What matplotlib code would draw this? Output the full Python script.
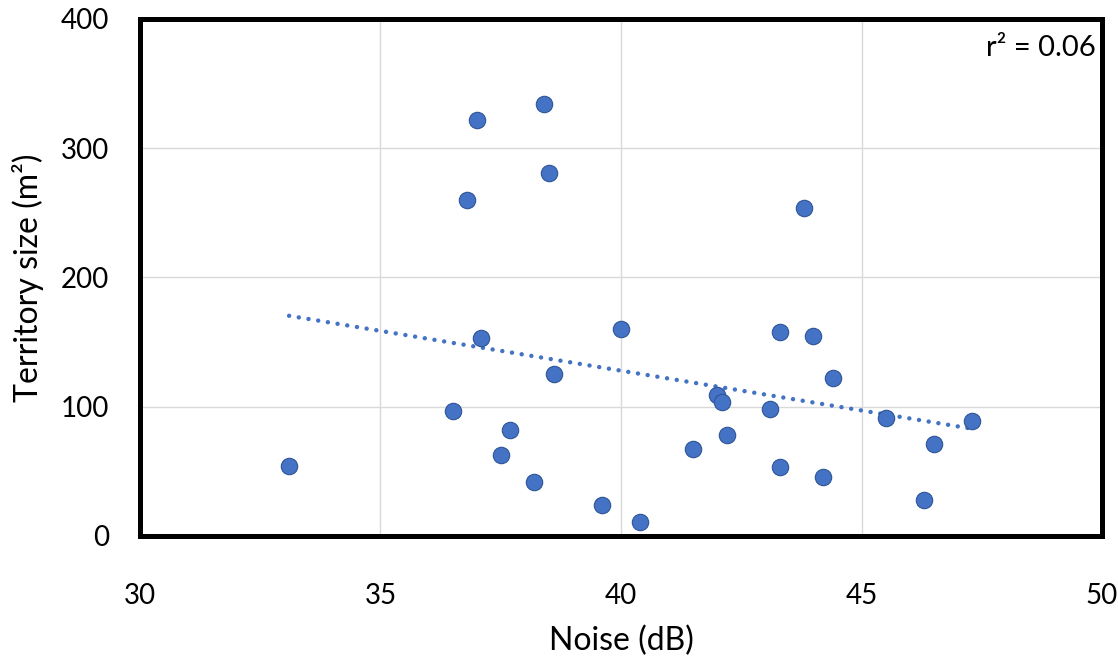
import numpy as np
import matplotlib.pyplot as plt

plt.rcParams['font.family'] = ['Lato', 'DejaVu Sans']

# Noise level (dB) and territory size (m^2).
noise = [33.1, 36.5, 36.8, 37.0, 37.1, 37.5, 37.7, 38.2, 38.4, 38.5,
         38.6, 39.6, 40.0, 40.4, 41.5, 42.0, 42.1, 42.2, 43.1, 43.3,
         43.3, 43.8, 44.0, 44.2, 44.4, 45.5, 46.3, 46.5, 47.3]
territory = [54, 97, 260, 322, 153, 63, 82, 42, 334, 281,
             125, 24, 160, 11, 67, 109, 104, 78, 98, 158,
             53, 254, 155, 46, 122, 91, 28, 71, 89]

x_ticks = [30, 35, 40, 45, 50]
y_ticks = [0, 100, 200, 300, 400]
r2_label = 'r² = 0.06'

blue = '#4472C4'

fig = plt.figure(figsize=(11.18, 6.64), dpi=100)
ax = fig.add_axes([0.1252, 0.1928, 0.8605, 0.7786])

ax.scatter(noise, territory, s=140, color=blue, edgecolor='#2f5597',
           linewidth=0.8, zorder=3)

# Linear trendline over the data range.
slope, intercept = np.polyfit(noise, territory, 1)
xs = np.array([min(noise), max(noise)])
ax.plot(xs, slope * xs + intercept, color=blue, lw=3.2,
        linestyle=(0, (0.01, 2.2)), dash_capstyle='round', zorder=2)

ax.set_xlim(30, 50)
ax.set_ylim(0, 400)
ax.set_xticks(x_ticks)
ax.set_yticks(y_ticks)
ax.grid(color='#d9d9d9', lw=1)
ax.set_axisbelow(True)
ax.tick_params(length=0, labelsize=20)
ax.tick_params(axis='x', pad=34)
ax.tick_params(axis='y', pad=22)
for s in ax.spines.values():
    s.set_linewidth(3.6)
    s.set_color('black')

ax.set_xlabel('Noise (dB)', fontsize=23, labelpad=12)
ax.set_ylabel('Territory size (m²)', fontsize=23, labelpad=12)
ax.text(0.993, 0.97, r2_label, transform=ax.transAxes, ha='right',
        va='top', fontsize=21)

fig.savefig('out.png', dpi=100)
